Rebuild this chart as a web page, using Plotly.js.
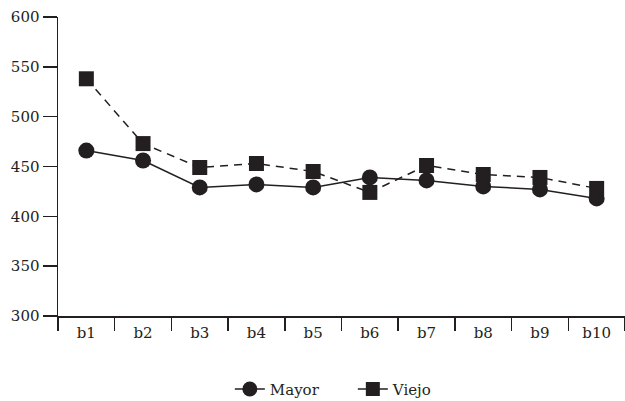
<!DOCTYPE html>
<html>
<head>
<meta charset="utf-8">
<script src="https://cdn.plot.ly/plotly-3.0.1.min.js"></script>
<style>html,body{margin:0;padding:0;background:#fff;}#chart{width:625px;height:401px;}</style>
</head>
<body>
<div id="chart"></div>
<script>
var categories = ["b1","b2","b3","b4","b5","b6","b7","b8","b9","b10"];
var mayorValues = [466, 456, 429, 432, 429, 439, 436, 430, 427, 418];
var viejoValues = [538, 473, 449, 453, 445, 424, 451, 442, 439, 428];
var seriesNames = ["Mayor", "Viejo"];
var yTickValues = [300, 350, 400, 450, 500, 550, 600];

var ink = "#231f20";
var serif = "DejaVu Serif";
var traces = [
  {
    x: categories, y: mayorValues, name: seriesNames[0], type: "scatter", mode: "lines+markers",
    line: {color: ink, width: 1.5},
    marker: {symbol: "circle", size: 16, color: ink}, showlegend: false
  },
  {
    x: categories, y: viejoValues, name: seriesNames[1], type: "scatter", mode: "lines+markers",
    line: {color: ink, width: 1.5, dash: "8px,6px"},
    marker: {symbol: "square", size: 15, color: ink}, showlegend: false
  },
  {
    x: [null], y: [null], name: seriesNames[0], type: "scatter", mode: "lines+markers",
    line: {color: ink, width: 1.5}, marker: {symbol: "circle", size: 15, color: ink}
  },
  {
    x: [null], y: [null], name: seriesNames[1], type: "scatter", mode: "lines+markers",
    line: {color: ink, width: 1.5}, marker: {symbol: "square", size: 14, color: ink}
  }
];

var layout = {
  width: 625, height: 401,
  margin: {l: 58, r: 0, t: 17, b: 85, autoexpand: false},
  paper_bgcolor: "#fff", plot_bgcolor: "#fff",
  font: {family: serif, size: 15, color: ink},
  showlegend: true,
  legend: {
    orientation: "h", x: 0.52, xanchor: "center", y: -0.245, yanchor: "middle",
    font: {family: serif, size: 15, color: ink},
    itemwidth: 30, traceorder: "normal", entrywidth: 78, entrywidthmode: "pixels"
  },
  xaxis: {
    type: "category", range: [-0.5, 9.5],
    showline: true, linecolor: ink, linewidth: 1.5,
    ticks: "outside", tickson: "boundaries", ticklen: 13, tickwidth: 1.5, tickcolor: ink,
    ticklabelstandoff: 2, automargin: false,
    showgrid: false, zeroline: false,
    tickfont: {family: serif, size: 15, color: ink}
  },
  yaxis: {
    range: [300, 600], tickvals: yTickValues,
    showline: true, linecolor: ink, linewidth: 1.5,
    ticks: "outside", ticklen: 14, tickwidth: 1.5, tickcolor: ink, automargin: false,
    showgrid: false, zeroline: false,
    tickfont: {family: serif, size: 15, color: ink}
  }
};

Plotly.newPlot("chart", traces, layout, {displayModeBar: false, staticPlot: true});
</script>
</body>
</html>
